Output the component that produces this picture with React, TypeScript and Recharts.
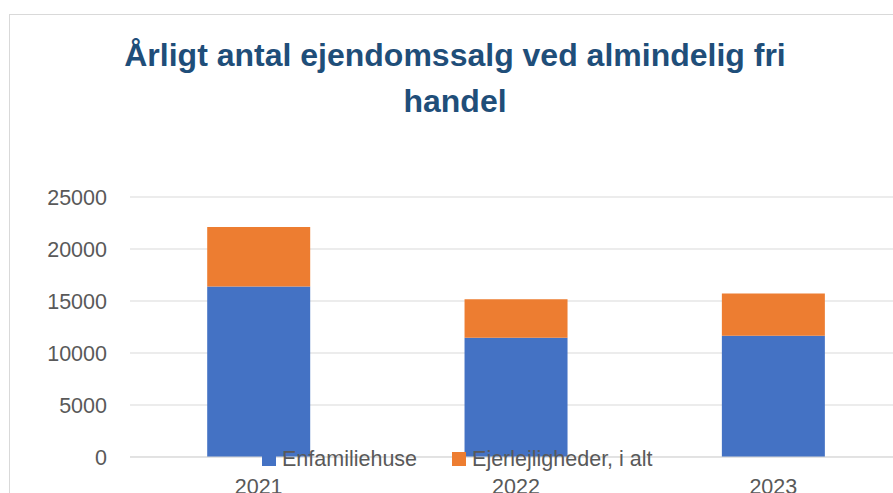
import React from 'react';
import { BarChart, Bar, XAxis, YAxis, CartesianGrid, Legend } from 'recharts';

const years = ['2021', '2022', '2023'];
const enfamiliehuse = [16400, 11470, 11660];
const ejerlejligheder = [5710, 3700, 4050];
const yTicks = [0, 5000, 10000, 15000, 20000, 25000];
const seriesNames = ['Enfamiliehuse', 'Ejerlejligheder, i alt'];
const seriesColors = ['#4472C4', '#ED7D31'];
const titleLines = ['Årligt antal ejendomssalg ved almindelig fri', 'handel'];

const data = years.map((y, i) => ({
  year: y,
  enf: enfamiliehuse[i],
  ejer: ejerlejligheder[i],
}));

const FONT = '"Liberation Sans", Arial, sans-serif';

const renderLegend = (props: any) => {
  const payload = props.payload || [];
  const ordered = seriesNames
    .map((n) => payload.find((p: any) => p.value === n))
    .filter(Boolean);
  return (
    <div style={{ display: 'flex', alignItems: 'center', fontFamily: FONT, fontSize: 21.5, color: '#595959', whiteSpace: 'nowrap' }}>
      {ordered.map((p: any, i: number) => (
        <div key={i} style={{ display: 'flex', alignItems: 'center', marginRight: i === 0 ? 35 : 0 }}>
          <div style={{ width: 14, height: 14, background: p.color, marginRight: 6 }} />
          <span style={{ lineHeight: '24px' }}>{p.value}</span>
        </div>
      ))}
    </div>
  );
};

export default function App() {
  return (
    <div style={{ position: 'absolute', left: 0, top: 0, width: 893, height: 493, overflow: 'hidden', background: '#fff' }}>
      <div style={{ position: 'absolute', left: 9, top: 14, width: 1000, height: 600, border: '1px solid #d9d9d9', boxSizing: 'border-box' }} />
      <div style={{ position: 'absolute', left: 0, top: 0 }}>
        <BarChart
          width={910}
          height={520}
          data={data}
          margin={{ top: 197, right: 8, bottom: 0, left: 0 }}
          barCategoryGap="30%"
        >
          <CartesianGrid vertical={false} stroke="#d9d9d9" strokeWidth={1} />
          <XAxis
            dataKey="year"
            height={63}
            axisLine={{ stroke: '#d9d9d9' }}
            tickLine={false}
            tickSize={0}
            tickMargin={22}
            tick={{ fill: '#595959', fontSize: 21.5, fontFamily: FONT }}
          />
          <YAxis
            width={130}
            domain={[0, 25000]}
            ticks={yTicks}
            axisLine={false}
            tickLine={false}
            tickSize={0}
            tickMargin={23}
            tick={{ fill: '#595959', fontSize: 21.5, fontFamily: FONT }}
          />
          <Legend
            layout="horizontal"
            verticalAlign="middle"
            align="center"
            content={renderLegend}
            wrapperStyle={{ position: 'absolute', top: 447, left: 262, width: 'auto' }}
          />
          <Bar dataKey="enf" name={seriesNames[0]} stackId="a" fill={seriesColors[0]} isAnimationActive={false} />
          <Bar dataKey="ejer" name={seriesNames[1]} stackId="a" fill={seriesColors[1]} isAnimationActive={false} />
        </BarChart>
      </div>
      <svg style={{ position: 'absolute', left: 0, top: 0 }} width={893} height={130}>
        <text x={455} y={66} textAnchor="middle" fontFamily={FONT} fontWeight="bold" fontSize={32} fill="#1F4E79">{titleLines[0]}</text>
        <text x={455} y={112} textAnchor="middle" fontFamily={FONT} fontWeight="bold" fontSize={32} fill="#1F4E79">{titleLines[1]}</text>
      </svg>
    </div>
  );
}
